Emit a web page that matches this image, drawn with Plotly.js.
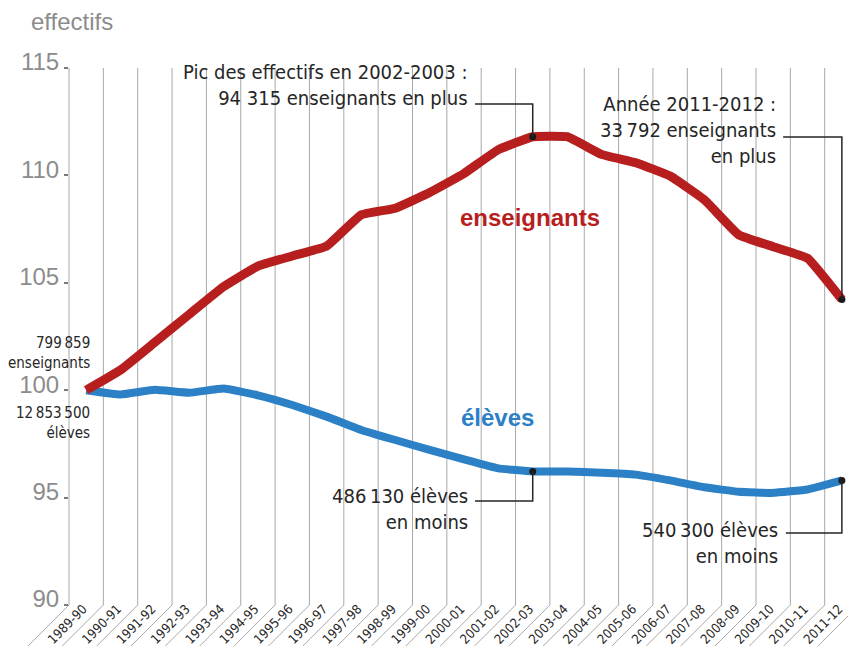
<!DOCTYPE html>
<html>
<head>
<meta charset="utf-8">
<script src="https://cdn.plot.ly/plotly-3.0.1.min.js"></script>
<style>html,body{margin:0;padding:0;background:#fff;}#chart{width:848px;height:646px;}</style>
</head>
<body>
<div id="chart"></div>
<script>
// ---- data ----
const categories = ['1989-90','1990-91','1991-92','1992-93','1993-94','1994-95','1995-96','1996-97','1997-98','1998-99','1999-00','2000-01','2001-02','2002-03','2003-04','2004-05','2005-06','2006-07','2007-08','2008-09','2009-10','2010-11','2011-12'];
const enseignants = [100, 100.94, 102.23, 103.53, 104.82, 105.78, 106.25, 106.71, 108.16, 108.47, 109.2, 110.09, 111.2, 111.8, 111.8, 110.98, 110.59, 109.97, 108.86, 107.23, 106.68, 106.14, 104.22];
const eleves = [100, 99.8, 100.02, 99.88, 100.08, 99.76, 99.31, 98.77, 98.15, 97.68, 97.22, 96.78, 96.36, 96.22, 96.21, 96.16, 96.07, 95.8, 95.48, 95.27, 95.22, 95.38, 95.8];
const yTicks = [90, 95, 100, 105, 110, 115];
const highlightIdx = [13, 22];

// ---- layout helpers ----
const W = 848, H = 646;
const mL = 69, mR = 0, mT = 68, mB = 41;
const plotW = W - mL - mR, plotH = H - mT - mB;
const pxPerCat = 34.35;
const xRange = [-0.5, -0.5 + plotW / pxPerCat];
const yRange = [90, 115];
const xIdx = categories.map((c, i) => i);
const toPaperX = v => (v - xRange[0]) / (xRange[1] - xRange[0]);
const pxToPaperX = px => (px - mL) / plotW;
const pxToPaperY = py => (H - mB - py) / plotH;

const NARROW = '"Liberation Sans Narrow", "DejaVu Sans Condensed", "Roboto Condensed", "Liberation Sans", sans-serif';
const SANS = '"Liberation Sans", Arial, sans-serif';
const RED = '#b71f1f', BLUE = '#2b80c6', GRID = '#a8a8a8', INK = '#262626';

const shapes = [];
// vertical grid lines at category boundaries + diagonal leaders toward labels
const diagDX = 45 / plotW, diagDY = 45 / plotH;
for (let k = 0; k <= categories.length; k++) {
  const px = toPaperX(k - 0.5);
  if (k < categories.length) {
    shapes.push({type: 'line', xref: 'paper', yref: 'paper', x0: px, x1: px, y0: 0, y1: 1,
      line: {color: GRID, width: 1}, layer: 'below'});
  }
  shapes.push({type: 'line', xref: 'paper', yref: 'paper', x0: px, x1: px - diagDX, y0: 0, y1: -diagDY,
    line: {color: GRID, width: 1}, layer: 'below'});
}
// leader lines to highlighted points
function leader(xText, yLine, idx, val) {
  shapes.push({type: 'path', xref: 'x', yref: 'y',
    path: `M ${xText} ${yLine} L ${idx} ${yLine} L ${idx} ${val}`,
    line: {color: INK, width: 1.5}, layer: 'above'});
}
leader(11.32, 113.32, highlightIdx[0], enseignants[highlightIdx[0]]);
leader(20.29, 111.79, highlightIdx[1], enseignants[highlightIdx[1]]);
leader(11.32, 94.84, highlightIdx[0], eleves[highlightIdx[0]]);
leader(20.37, 93.35, highlightIdx[1], eleves[highlightIdx[1]]);

const annFont = {family: NARROW, size: 20, color: INK};
const smallFont = {family: NARROW, size: 15, color: INK};
const annotations = [
  {x: pxToPaperX(29), y: pxToPaperY(22), xref: 'paper', yref: 'paper', xanchor: 'left', yanchor: 'middle', showarrow: false,
   text: 'effectifs', font: {family: SANS, size: 24, color: '#8c8c8c'}},
  {x: 11.17, y: 114.2, xref: 'x', yref: 'y', xanchor: 'right', yanchor: 'middle', align: 'right', showarrow: false,
   text: 'Pic des effectifs en 2002-2003 :<br>94 315 enseignants en plus', font: annFont},
  {x: 20.14, y: 112.11, xref: 'x', yref: 'y', xanchor: 'right', yanchor: 'middle', align: 'right', showarrow: false,
   text: 'Année 2011-2012 :<br>33\u202f792 enseignants<br>en plus', font: annFont},
  {x: 11.17, y: 94.45, xref: 'x', yref: 'y', xanchor: 'right', yanchor: 'middle', align: 'right', showarrow: false,
   text: '486\u202f130 élèves<br>en moins', font: annFont},
  {x: 20.2, y: 92.9, xref: 'x', yref: 'y', xanchor: 'right', yanchor: 'middle', align: 'right', showarrow: false,
   text: '540\u202f300 élèves<br>en moins', font: annFont},
  {x: pxToPaperX(92), y: pxToPaperY(353), xref: 'paper', yref: 'paper', xanchor: 'right', yanchor: 'middle', align: 'right', showarrow: false,
   text: '799\u202f859<br>enseignants', font: smallFont},
  {x: pxToPaperX(92), y: pxToPaperY(423), xref: 'paper', yref: 'paper', xanchor: 'right', yanchor: 'middle', align: 'right', showarrow: false,
   text: '12\u202f853\u202f500<br>élèves', font: smallFont},
  {x: 12.92, y: 108.06, xref: 'x', yref: 'y', xanchor: 'center', yanchor: 'middle', showarrow: false,
   text: '<b>enseignants</b>', font: {family: SANS, size: 24, color: RED}},
  {x: 11.97, y: 98.71, xref: 'x', yref: 'y', xanchor: 'center', yanchor: 'middle', showarrow: false,
   text: '<b>élèves</b>', font: {family: SANS, size: 24, color: BLUE}}
];

const traces = [
  {x: xIdx, y: eleves, type: 'scatter', mode: 'lines', cliponaxis: false,
   line: {color: BLUE, width: 8, shape: 'spline', smoothing: 0.3}, hoverinfo: 'skip'},
  {x: xIdx, y: enseignants, type: 'scatter', mode: 'lines', cliponaxis: false,
   line: {color: RED, width: 9, shape: 'spline', smoothing: 0.3}, hoverinfo: 'skip'},
  {x: highlightIdx.concat(highlightIdx), y: highlightIdx.map(i => enseignants[i]).concat(highlightIdx.map(i => eleves[i])),
   type: 'scatter', mode: 'markers', cliponaxis: false,
   marker: {color: '#1a1a1a', size: 7}, hoverinfo: 'skip'}
];

const layout = {
  width: W, height: H,
  margin: {l: mL, r: mR, t: mT, b: mB, pad: 0},
  paper_bgcolor: '#fff', plot_bgcolor: '#fff',
  showlegend: false,
  xaxis: {range: xRange, tickvals: xIdx, ticktext: categories, tickangle: -45,
    showgrid: false, zeroline: false, showline: false, ticks: '',
    ticklabeloverflow: 'allow', ticklabelstandoff: -7, ticklabelshift: -3,
    tickfont: {family: NARROW, size: 13, color: INK}, fixedrange: true},
  yaxis: {range: yRange, tickvals: yTicks, showgrid: false, zeroline: false, showline: false,
    ticks: 'outside', ticklen: 4, tickwidth: 2, tickcolor: '#7a7a7a', ticklabelshift: -6,
    tickfont: {family: SANS, size: 24, color: '#8c8c8c'}, fixedrange: true},
  shapes: shapes,
  annotations: annotations
};

Plotly.newPlot('chart', traces, layout, {displayModeBar: false, staticPlot: true});
</script>
</body>
</html>
